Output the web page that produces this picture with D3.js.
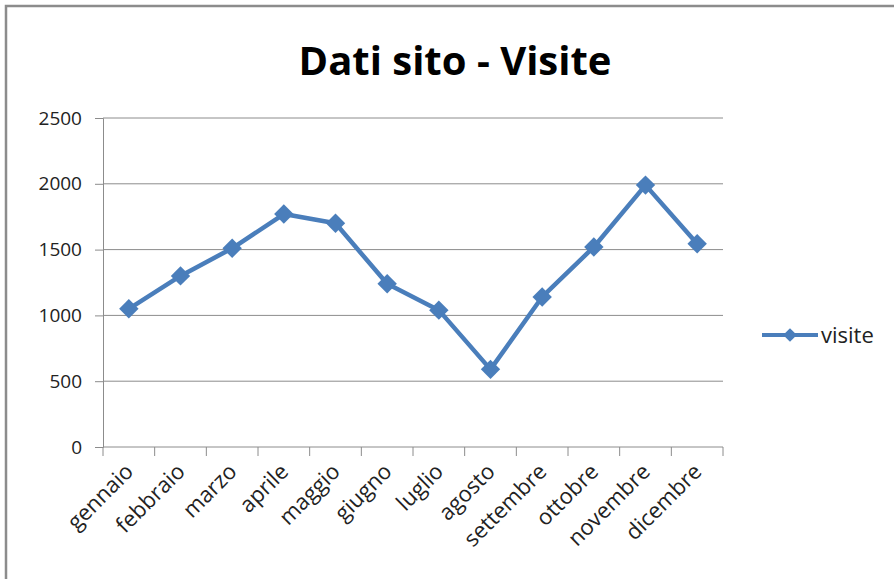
<!DOCTYPE html>
<html lang="it">
<head>
<meta charset="UTF-8">
<title>Dati sito - Visite</title>
<script src="https://d3js.org/d3.v7.min.js"></script>
<style>
  body { margin: 0; background: #fff; }
  text { font-family: "Open Sans", "DejaVu Sans", sans-serif; }
</style>
</head>
<body>
<script>
// data
var mesi = ["gennaio", "febbraio", "marzo", "aprile", "maggio", "giugno",
            "luglio", "agosto", "settembre", "ottobre", "novembre", "dicembre"];
var visite = [1050, 1300, 1510, 1770, 1700, 1240, 1040, 590, 1140, 1520, 1990, 1545];
var yTicks = [0, 500, 1000, 1500, 2000, 2500];
var seriesName = "visite";

var W = 894, H = 579;
var plotL = 103, plotR = 723, plotT = 118, plotB = 447;
var blue = "#4a7ebb";
var grey = "#8c8c8c";

var svg = d3.select("body").append("svg")
  .attr("width", W)
  .attr("height", H);

svg.append("rect").attr("width", W).attr("height", H).attr("fill", "#fff");

// frame
svg.append("path")
  .attr("d", "M6," + H + "V6H" + W)
  .attr("fill", "none")
  .attr("stroke", grey)
  .attr("stroke-width", 2.5);

var x = d3.scaleBand().domain(mesi).range([plotL, plotR]);
var y = d3.scaleLinear().domain([0, 2500]).range([plotB, plotT]);

// gridlines
svg.append("g").selectAll("line")
  .data(yTicks.slice(1))
  .enter().append("line")
  .attr("x1", plotL).attr("x2", plotR)
  .attr("y1", function(d) { return y(d); })
  .attr("y2", function(d) { return y(d); })
  .attr("stroke", grey)
  .attr("stroke-width", 1);

// y axis
var yAxis = svg.append("g")
  .attr("transform", "translate(" + plotL + ",0)")
  .call(d3.axisLeft(y).tickValues(yTicks).tickFormat(d3.format("d")).tickSize(8).tickPadding(13));
yAxis.select(".domain").attr("stroke", grey);
yAxis.selectAll(".tick line").attr("stroke", grey);
yAxis.selectAll("text")
  .attr("font-family", "'Open Sans', sans-serif")
  .attr("font-size", 19)
  .attr("fill", "#222");

// x axis with ticks at category boundaries
var xAxis = svg.append("g")
  .attr("transform", "translate(0," + plotB + ")");
xAxis.append("line")
  .attr("x1", plotL).attr("x2", plotR)
  .attr("stroke", grey);
xAxis.selectAll(".bt")
  .data(mesi.concat(["_end"]))
  .enter().append("line")
  .attr("class", "bt")
  .attr("x1", function(d, i) { return plotL + i * x.step(); })
  .attr("x2", function(d, i) { return plotL + i * x.step(); })
  .attr("y1", 0).attr("y2", 9)
  .attr("stroke", grey);
xAxis.selectAll("text")
  .data(mesi)
  .enter().append("text")
  .attr("transform", function(d) {
    return "translate(" + (x(d) + x.bandwidth() / 2 - 5) + ",15) rotate(-45)";
  })
  .attr("text-anchor", "end")
  .attr("dy", "0.7em")
  .attr("font-size", 22)
  .attr("fill", "#222")
  .text(function(d) { return d; });

// line
var line = d3.line()
  .x(function(d, i) { return x(mesi[i]) + x.bandwidth() / 2; })
  .y(function(d) { return y(d); });

svg.append("path")
  .datum(visite)
  .attr("d", line)
  .attr("fill", "none")
  .attr("stroke", blue)
  .attr("stroke-width", 4.5)
  .attr("stroke-linejoin", "round");

var diamond = d3.symbol().type(d3.symbolDiamond2).size(240);
svg.append("g").selectAll("path")
  .data(visite)
  .enter().append("path")
  .attr("d", diamond)
  .attr("transform", function(d, i) {
    return "translate(" + (x(mesi[i]) + x.bandwidth() / 2) + "," + y(d) + ")";
  })
  .attr("fill", blue);

// title
svg.append("text")
  .attr("x", 455)
  .attr("y", 75)
  .attr("text-anchor", "middle")
  .attr("font-size", 40)
  .attr("font-weight", "bold")
  .attr("fill", "#000")
  .text("Dati sito - Visite");

// legend
var lg = svg.append("g").attr("transform", "translate(762,335)");
lg.append("line")
  .attr("x1", 0).attr("x2", 56)
  .attr("stroke", blue).attr("stroke-width", 4);
lg.append("path")
  .attr("d", d3.symbol().type(d3.symbolDiamond2).size(120))
  .attr("transform", "translate(28,0)")
  .attr("fill", blue);
lg.append("text")
  .attr("x", 59)
  .attr("y", 0)
  .attr("dy", "0.35em")
  .attr("font-size", 22)
  .attr("fill", "#222")
  .text(seriesName);
</script>
</body>
</html>
